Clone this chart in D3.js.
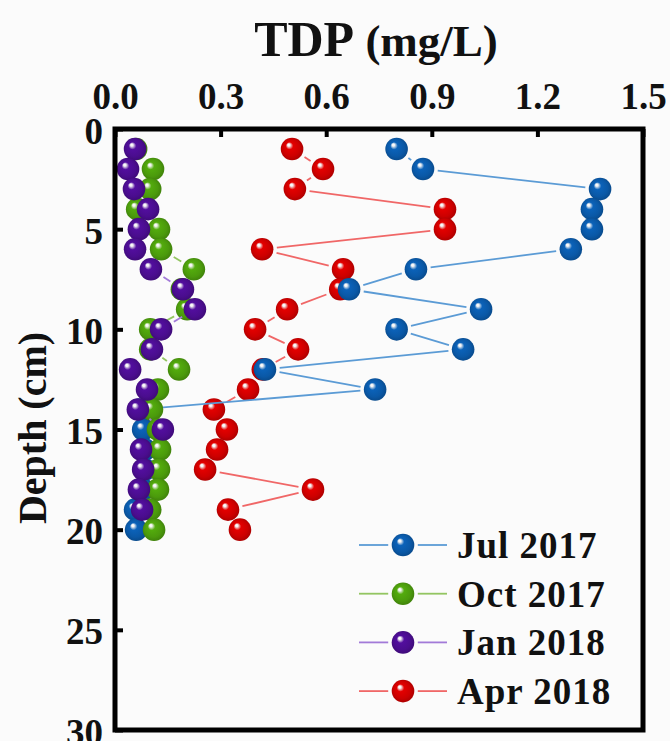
<!DOCTYPE html>
<html>
<head>
<meta charset="utf-8">
<script src="https://cdn.jsdelivr.net/npm/d3@7"></script>
<style>
  html, body { margin: 0; padding: 0; background: #fbfbfb; }
  svg { display: block; }
  text { font-family: "Liberation Serif", "Times New Roman", serif; font-weight: bold; fill: #111; }
</style>
</head>
<body>
<svg id="chart" width="670" height="741"></svg>
<script>
// Depth of each sampling layer (cm)
const depths = [1, 2, 3, 4, 5, 6, 7, 8, 9, 10, 11, 12, 13, 14, 15, 16, 17, 18, 19, 20];

// TDP concentration profiles (mg/L), one value per depth
const jul2017 = [0.80, 0.875, 1.378, 1.355, 1.355, 1.295, 0.855, 0.665, 1.04, 0.80,
                 0.989, 0.426, 0.739, 0.07, 0.08, 0.085, 0.085, 0.08, 0.057, 0.06];
const oct2017 = [0.06, 0.108, 0.10, 0.063, 0.125, 0.131, 0.224, 0.19, 0.205, 0.10,
                 0.10, 0.182, 0.122, 0.105, 0.122, 0.128, 0.125, 0.122, 0.10, 0.111];
const jan2018 = [0.057, 0.037, 0.054, 0.094, 0.068, 0.057, 0.102, 0.193, 0.227, 0.131,
                 0.105, 0.043, 0.091, 0.065, 0.136, 0.074, 0.08, 0.068, 0.077];
const apr2018 = [0.503, 0.591, 0.511, 0.9375, 0.9375, 0.418, 0.648, 0.64, 0.489, 0.398,
                 0.52, 0.42, 0.378, 0.281, 0.318, 0.29, 0.256, 0.5625, 0.321, 0.355];

const seriesNames = ["Jul 2017", "Oct 2017", "Jan 2018", "Apr 2018"];
const xTicks = [0.0, 0.3, 0.6, 0.9, 1.2, 1.5];
const yTicks = [0, 5, 10, 15, 20, 25, 30];

const series = [
  { name: seriesNames[0], values: jul2017, fill: "#0a58a6", line: "#5b9bd5", id: "jul" },
  { name: seriesNames[1], values: oct2017, fill: "#4b9a0c", line: "#93c561", id: "oct" },
  { name: seriesNames[2], values: jan2018, fill: "#4a0d8e", line: "#a27ad8", id: "jan" },
  { name: seriesNames[3], values: apr2018, fill: "#cc0000", line: "#f06767", id: "apr" }
];

const svg = d3.select("#chart");
const plotL = 115, plotR = 643, plotT = 129, plotB = 730;

const x = d3.scaleLinear().domain([0, 1.5]).range([plotL, plotR]);
const y = d3.scaleLinear().domain([0, 30]).range([plotT, plotB]);

// Sphere-like shading for the markers
const defs = svg.append("defs");
series.forEach(s => {
  const base = d3.color(s.fill);
  const g = defs.append("radialGradient")
    .attr("id", "ball-" + s.id)
    .attr("cx", "50%").attr("cy", "50%").attr("r", "55%")
    .attr("fx", "34%").attr("fy", "30%");
  g.append("stop").attr("offset", "0%").attr("stop-color", "#ffffff");
  g.append("stop").attr("offset", "10%").attr("stop-color", "#f4f4f4");
  g.append("stop").attr("offset", "30%").attr("stop-color", base.brighter(0.3).formatHex());
  g.append("stop").attr("offset", "70%").attr("stop-color", base.formatHex());
  g.append("stop").attr("offset", "100%").attr("stop-color", base.darker(0.6).formatHex());
});

const R = 11.3;    // marker radius
const GAP = 3.5;   // space left between a line and a marker

// Axes (ticks point into the frame)
const xAxis = d3.axisTop(x).tickValues(xTicks).tickFormat(d3.format(".1f"))
  .tickSizeInner(-8).tickSizeOuter(0).tickPadding(20);
const yAxis = d3.axisLeft(y).tickValues(yTicks).tickFormat(d3.format("d"))
  .tickSizeInner(-8).tickSizeOuter(0).tickPadding(12);

const gx = svg.append("g").attr("transform", `translate(0,${plotT})`).call(xAxis);
const gy = svg.append("g").attr("transform", `translate(${plotL},0)`).call(yAxis);
[gx, gy].forEach(g => {
  g.select(".domain").remove();
  g.selectAll(".tick line").attr("stroke", "#000").attr("stroke-width", 4);
  g.selectAll(".tick text").attr("font-size", 37).attr("fill", "#111")
    .style("font-family", "'Liberation Serif', serif").style("font-weight", "bold");
});
gy.selectAll(".tick text").attr("dy", "0.38em");

// Series: connecting segments (trimmed at each marker) then the markers
const plotOrder = [3, 0, 1, 2];
plotOrder.forEach(i => {
  const s = series[i];
  const pts = s.values.map((v, k) => [x(v), y(depths[k])]);
  const segs = [];
  for (let k = 0; k < pts.length - 1; k++) {
    const [x1, y1] = pts[k], [x2, y2] = pts[k + 1];
    const len = Math.hypot(x2 - x1, y2 - y1);
    const cut = R + GAP;
    if (len <= 2 * cut) continue;
    const ux = (x2 - x1) / len, uy = (y2 - y1) / len;
    segs.push([x1 + ux * cut, y1 + uy * cut, x2 - ux * cut, y2 - uy * cut]);
  }
  const g = svg.append("g");
  g.selectAll("line").data(segs).join("line")
    .attr("x1", d => d[0]).attr("y1", d => d[1])
    .attr("x2", d => d[2]).attr("y2", d => d[3])
    .attr("stroke", s.line).attr("stroke-width", 1.8);
  g.selectAll("circle").data(s.values).join("circle")
    .attr("cx", d => x(d)).attr("cy", (d, k) => y(depths[k]))
    .attr("r", R).attr("fill", `url(#ball-${s.id})`);
});

// Frame
svg.append("rect")
  .attr("x", plotL).attr("y", plotT)
  .attr("width", plotR - plotL).attr("height", plotB - plotT)
  .attr("fill", "none").attr("stroke", "#000").attr("stroke-width", 5);

// Title on top axis
const title = svg.append("text").attr("x", 376).attr("y", 56).attr("text-anchor", "middle");
title.append("tspan").attr("font-size", 50).text("TDP");
title.append("tspan").attr("font-size", 45).text(" (mg/L)");

// Vertical axis title
svg.append("text")
  .attr("transform", "translate(46,428) rotate(-90)")
  .attr("text-anchor", "middle")
  .attr("font-size", 40)
  .text("Depth (cm)");

// Legend
const legX = 359, legY = 545, legStep = 48.7, legLen = 88;
series.forEach((s, i) => {
  const ly = legY + i * legStep;
  const cx = legX + legLen / 2;
  const g = svg.append("g");
  g.append("line").attr("x1", legX).attr("x2", cx - R - GAP).attr("y1", ly).attr("y2", ly)
    .attr("stroke", s.line).attr("stroke-width", 1.8);
  g.append("line").attr("x1", cx + R + GAP).attr("x2", legX + legLen).attr("y1", ly).attr("y2", ly)
    .attr("stroke", s.line).attr("stroke-width", 1.8);
  g.append("circle").attr("cx", cx).attr("cy", ly).attr("r", R).attr("fill", `url(#ball-${s.id})`);
  g.append("text").attr("x", legX + legLen + 10).attr("y", ly).attr("dy", "0.35em")
    .attr("font-size", 37).attr("letter-spacing", 1).text(s.name);
});
</script>
</body>
</html>
